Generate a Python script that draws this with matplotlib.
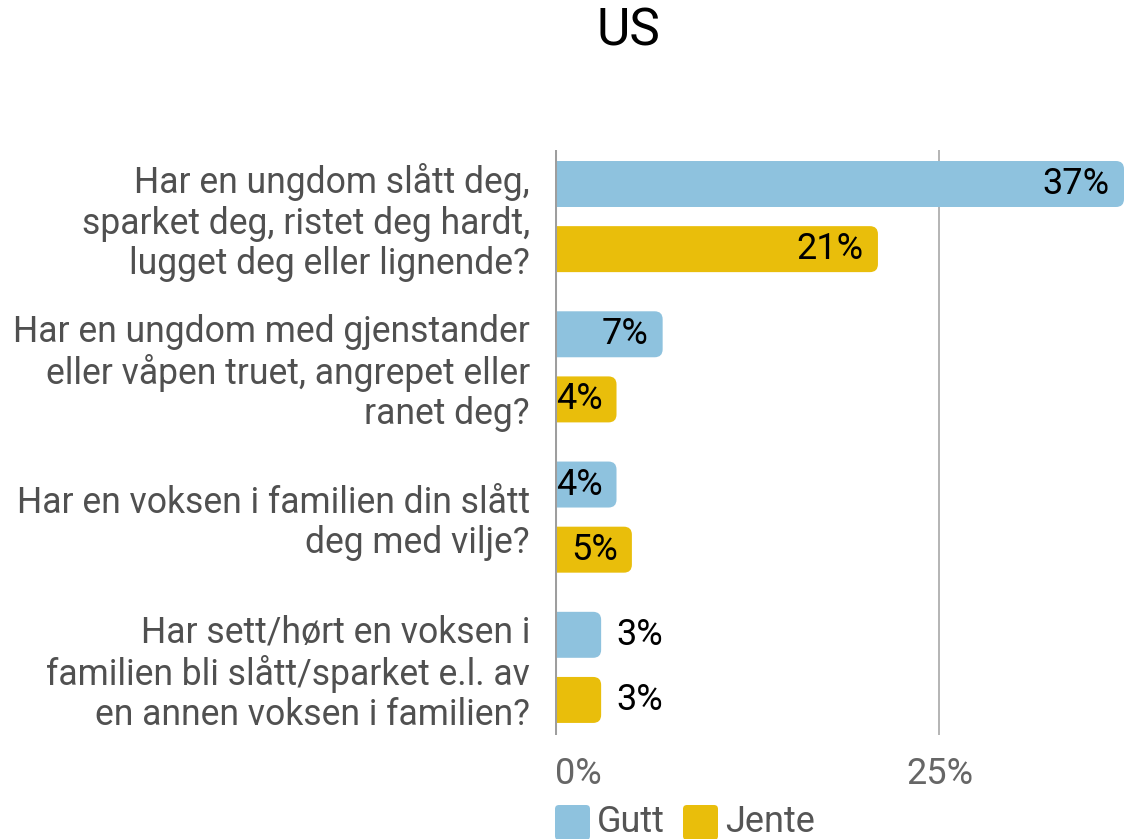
import matplotlib
matplotlib.use("Agg")
import matplotlib.pyplot as plt
from matplotlib.patches import FancyBboxPatch
from matplotlib.transforms import IdentityTransform

plt.rcParams['font.family'] = ['Roboto', 'DejaVu Sans']

title = "US"
questions = [
    "Har en ungdom slått deg,\nsparket deg, ristet deg hardt,\nlugget deg eller lignende?",
    "Har en ungdom med gjenstander\neller våpen truet, angrepet eller\nranet deg?",
    "Har en voksen i familien din slått\ndeg med vilje?",
    "Har sett/hørt en voksen i\nfamilien bli slått/sparket e.l. av\nen annen voksen i familien?",
]
series = ["Gutt", "Jente"]
gutt = [37, 7, 4, 3]
jente = [21, 4, 5, 3]
colors = ["#8ec2de", "#e9be0b"]
xticks = [0, 25]

W, H = 1124, 839
fig = plt.figure(figsize=(W / 100, H / 100), dpi=100)
ax = fig.add_axes([555 / W, (H - 735) / H, 569 / W, 585 / H])
ax.set_xlim(0, 37)
ax.set_ylim(3.45, -0.443)

bar_h = 0.306
off = 0.2167

# pixel -> data scale so the rounded corners come out circular
px_x = 37 / 569
px_y = (3.45 + 0.443) / 585
radius = 8 * px_x
aspect = px_y / px_x

for gi in range(len(questions)):
    for si, vals in enumerate([gutt, jente]):
        v = vals[gi]
        yc = gi - off if si == 0 else gi + off
        bar = FancyBboxPatch((-2, yc - bar_h / 2), v + 2, bar_h,
                             boxstyle=f"round,pad=0,rounding_size={radius}",
                             mutation_aspect=aspect, fc=colors[si], ec='none',
                             zorder=2)
        ax.add_patch(bar)
        if v >= 4:
            ax.annotate(f"{v}%", (v, yc), xytext=(-14, 0), textcoords='offset pixels',
                        ha='right', va='center', fontsize=26, color='black', zorder=4)
        else:
            ax.annotate(f"{v}%", (v, yc), xytext=(15, 0), textcoords='offset pixels',
                        ha='left', va='center', fontsize=26, color='black', zorder=4)

ax.axvline(25, color='#a8a8a8', lw=1.2, zorder=1)
ax.axvline(0, color='#9e9e9e', lw=2.2, zorder=3)

for s in ax.spines.values():
    s.set_visible(False)

ax.set_yticks(range(len(questions)))
ax.set_yticklabels(questions, fontsize=25.6, color='#505050', linespacing=1.15)
ax.tick_params(axis='y', length=0, pad=18)

ax.set_xticks(xticks)
ax.set_xticklabels([f"{t}%" for t in xticks], fontsize=26, color='#666666')
ax.tick_params(axis='x', length=0, pad=15)
ax.get_xticklabels()[0].set_ha('left')

fig.text(628 / W, 1 - 31 / H, title, ha='center', va='center', fontsize=37, color='black')

# legend along the bottom edge
leg_x = [555, 683]
for x0, name, c in zip(leg_x, series, colors):
    sq = FancyBboxPatch((x0, H - 840), 35, 35,
                        boxstyle="round,pad=0,rounding_size=4",
                        fc=c, ec='none', transform=IdentityTransform())
    fig.add_artist(sq)
    fig.text((x0 + 42) / W, 1 - 822 / H, name, ha='left', va='center',
             fontsize=26, color='#555555')

fig.savefig("out.png", dpi=100)
